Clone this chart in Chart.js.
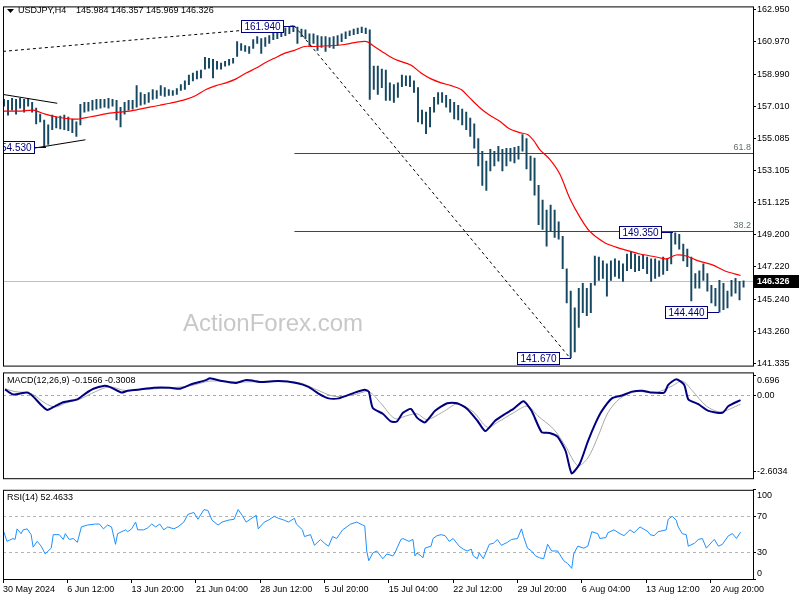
<!DOCTYPE html>
<html>
<head>
<meta charset="utf-8">
<title>USDJPY H4</title>
<script src="https://cdn.jsdelivr.net/npm/chart.js@4.4.1/dist/chart.umd.min.js"></script>
<style>
  body { margin: 0; background: #fff; }
  #wrap { position: relative; width: 800px; height: 600px; overflow: hidden; background: #fff; }
  #wrap canvas { position: absolute; left: 0; }
</style>
</head>
<body>
<div id="wrap">
  <canvas id="priceChart" width="800" height="372" style="top:0px"></canvas>
  <canvas id="macdChart" width="800" height="124" style="top:366px"></canvas>
  <canvas id="rsiChart" width="800" height="122" style="top:478px"></canvas>
</div>
<script>
// ---- chart data ----
const symbol = 'USDJPY,H4';
const lastBar = [145.984, 146.357, 145.969, 146.326]; // open, high, low, close

// one bar per 8 hours (every second H4 bar), bar i sits at H4 index 2*i+0.5
const barHigh = [
  157.45,157.39,157.51,157.45,157.51,157.45,157.51,157.27,156.91,156.55,
  156.19,155.89,156.49,156.37,156.43,156.49,156.37,156.25,156.07,157.15,
  157.27,157.27,157.39,157.45,157.45,157.45,157.51,157.45,157.39,156.97,
  157.27,157.39,157.39,158.29,157.87,157.75,157.87,158.05,157.99,158.29,
  158.17,158.05,157.99,158.11,158.35,158.58,158.94,159.06,159.18,159.24,
  160.02,159.96,159.90,159.78,159.66,159.78,159.90,159.96,160.98,160.86,
  160.74,160.68,161.10,161.28,161.16,161.22,161.34,161.63,161.58,161.75,
  161.81,161.90,161.94,161.87,161.75,161.69,161.46,161.46,161.34,161.28,
  161.28,161.22,161.28,161.34,161.46,161.58,161.63,161.75,161.81,161.87,
  161.81,161.69,159.48,159.48,159.30,159.24,158.46,158.35,158.46,158.94,
  158.88,158.88,158.58,158.17,156.79,156.67,156.97,157.57,157.87,157.87,
  157.69,157.45,157.27,157.09,156.85,156.67,156.31,155.95,155.06,154.28,
  153.68,154.40,154.28,154.58,154.40,154.46,154.46,154.52,154.58,155.30,
  155.06,153.98,153.86,152.19,151.29,150.69,150.99,150.69,149.97,149.08,
  147.10,145.73,144.71,145.91,146.21,145.91,146.21,147.88,147.82,147.58,
  147.40,147.58,147.70,147.58,147.40,148.00,148.12,148.00,147.88,147.94,
  147.82,147.70,147.70,147.58,147.82,147.70,149.35,149.30,149.20,148.60,
  148.30,147.82,146.80,146.98,147.40,146.80,146.09,145.91,146.39,146.21,
  145.73,146.39,146.51,146.33,146.357
];
const barLow = [
  157.03,156.49,156.79,156.55,156.91,156.67,157.03,156.67,155.95,156.07,
  154.53,154.70,155.60,155.71,155.65,155.60,155.54,155.42,155.18,155.89,
  156.67,156.73,156.79,156.85,156.91,156.97,156.91,157.03,156.19,155.77,
  156.55,156.79,156.85,156.97,157.09,157.15,157.27,157.45,157.51,157.69,
  157.63,157.69,157.69,157.75,157.99,158.05,158.35,158.58,158.70,158.76,
  159.30,159.36,158.76,159.30,159.30,159.48,159.54,159.66,160.08,160.44,
  160.38,160.26,160.56,160.86,160.26,160.68,160.86,161.10,161.16,161.28,
  161.34,161.46,161.58,160.86,161.28,161.16,160.74,160.86,160.44,160.62,
  160.38,160.62,160.56,160.74,160.98,161.16,161.34,161.40,161.46,161.52,
  161.46,157.45,158.05,157.75,158.17,157.39,157.39,157.27,157.57,158.23,
  158.29,158.23,157.87,156.07,155.95,155.36,155.77,156.67,157.15,157.27,
  156.97,156.67,156.25,156.19,155.89,155.60,155.18,154.46,153.38,152.19,
  151.89,153.08,153.38,153.68,153.08,153.38,153.68,153.56,153.80,154.28,
  153.20,152.49,151.59,149.80,149.50,148.48,149.38,149.02,148.90,147.10,
  145.01,141.67,142.02,143.52,144.41,144.23,144.41,146.09,146.39,146.51,
  145.43,146.39,146.63,146.51,146.33,146.98,147.10,146.92,146.98,147.10,
  146.80,146.33,146.51,146.63,146.75,146.98,147.40,148.60,148.30,147.58,
  147.22,145.13,145.91,145.91,146.39,145.73,145.01,144.83,144.44,144.60,
  144.71,145.43,145.61,145.19,145.969
];

// red moving average
const maBar = [0,9,15,21,27,34,38,43,48,53,58,63,68,73,78,83,91,96,101,106,111,116,121,126,130,135,140,145,150,155,
  165,170,175,181,184,190,195,203,208,213,218,223,228,232,237,242,247,252,257,261,264,267,272,277,282,287,292,299,305,310,
  317,325,330,335,340,346,353,359,367];
const maVal = [156.73,156.73,156.79,156.55,156.37,156.25,156.25,156.37,156.49,156.61,156.67,156.73,156.85,156.97,157.09,157.21,
  157.45,157.69,158.05,158.29,158.46,158.70,159.06,159.36,159.66,159.96,160.26,160.44,160.68,160.68,160.74,160.80,160.92,160.98,
  160.74,160.26,159.90,159.54,159.06,158.70,158.46,158.29,158.05,157.57,156.97,156.49,156.13,155.65,155.42,155.30,154.94,154.40,
  153.80,152.90,151.41,150.27,149.38,148.72,148.42,148.24,148.00,147.82,147.70,147.94,147.88,147.58,147.34,146.98,146.69];

// MACD main and signal
const macdBar = [1,5,12,15,19,22,26,30,37,41,45,50,53,59,62,67,75,83,88,94,101,103,109,116,121,129,137,146,152,157,
  162,167,175,180,182,184,189,193,196,199,203,206,210,215,221,226,231,236,240,245,250,254,259,263,268,272,276,280,283,287,
  291,295,298,303,308,313,318,323,329,331,335,339,341,346,351,358,361,367];
const macdVal = [0.208,0.033,0.099,-0.033,-0.329,-0.494,-0.362,-0.231,-0.132,0.066,0.231,0.329,0.297,0.099,0.165,0.198,0.264,0.264,
  0.231,0.395,0.527,0.593,0.494,0.428,0.527,0.461,0.494,0.428,0.297,0.066,-0.099,-0.099,0.099,0.198,0.132,-0.428,-0.626,-0.89,
  -0.89,-0.593,-0.461,-0.758,-0.923,-0.527,-0.264,-0.264,-0.461,-0.857,-1.219,-0.857,-0.626,-0.461,-0.198,-0.527,-1.252,-1.285,
  -1.417,-1.911,-2.669,-2.339,-1.582,-0.923,-0.527,-0.099,0,0.132,0.165,0.099,0.099,0.362,0.56,0.362,-0.132,-0.297,-0.527,-0.593,
  -0.362,-0.157];
const sigBar = [1,6,14,21,26,31,38,46,53,61,68,83,93,103,118,138,148,155,165,175,182,188,195,201,206,211,219,226,234,241,
  246,254,261,266,274,280,286,291,296,301,307,315,325,333,338,343,350,357,367];
const sigVal = [0.231,0.132,0.066,-0.264,-0.395,-0.264,-0.132,0.132,0.297,0.165,0.198,0.264,0.329,0.494,0.461,0.494,0.428,0.231,
  -0.033,0.033,0.132,-0.264,-0.791,-0.692,-0.626,-0.824,-0.56,-0.297,-0.56,-1.087,-0.923,-0.593,-0.362,-0.692,-1.153,-1.746,
  -2.405,-2.142,-1.417,-0.593,-0.099,0.132,0.099,0.329,0.494,0.165,-0.362,-0.56,-0.301];
const macdLast = [-0.1566, -0.3008];

// RSI(14)
const rsiBar = [0,2,5,6,7,9,10,12,14,15,17,19,21,24,25,28,30,31,33,35,37,39,42,46,48,50,52,54,56,57,
  61,62,64,66,67,70,72,74,76,78,80,82,85,87,90,92,95,97,100,102,104,107,109,112,115,117,119,121,123,126,
  127,130,132,135,137,140,142,145,146,149,150,153,155,158,160,162,164,166,169,173,176,179,180,181,182,184,186,189,191,194,
  195,198,199,202,204,205,206,208,209,210,213,214,216,218,220,222,224,227,229,231,233,234,236,237,239,242,244,246,248,251,
  253,256,258,259,261,263,265,267,269,271,273,276,279,281,283,284,286,289,291,293,296,297,300,301,304,307,309,312,314,317,
  321,322,324,326,330,331,333,335,336,338,340,341,344,346,348,350,353,354,356,358,361,363,365,367];
const rsiVal = [55.4,42.2,45.4,44.3,56.2,50.8,55.1,56.2,49.7,35.7,42.2,36.8,28.1,34.6,49.7,49.7,44.3,50.8,44.3,45.4,
  41.1,58.4,60.5,61.6,61.6,56.2,60.5,58.4,38.9,50.8,55.1,53.0,56.2,63.8,55.1,55.1,57.3,61.6,58.4,61.6,
  55.1,58.4,56.2,58.4,63.8,72.4,74.6,67.0,77.8,76.8,65.9,60.5,63.8,65.9,67.0,77.8,71.4,63.8,67.0,71.4,
  56.2,63.8,65.9,70.3,68.1,65.9,63.8,68.1,61.6,55.1,47.6,49.7,37.8,44.3,40.0,36.8,47.6,45.4,55.1,61.6,
  63.8,60.5,59.5,31.4,20.5,29.2,31.4,22.7,28.1,25.9,29.2,44.3,45.4,42.2,44.3,25.9,29.2,25.9,23.8,34.6,
  36.8,45.4,48.6,49.7,48.6,42.2,45.4,36.8,33.5,31.4,33.5,25.9,22.7,29.2,22.7,38.9,40.0,44.3,37.8,41.1,
  44.3,45.4,56.2,47.6,34.6,31.4,25.9,23.8,22.7,38.9,31.4,31.4,20.5,17.3,11.9,28.1,36.8,34.6,36.8,53.0,
  50.8,45.4,46.5,51.9,55.1,50.8,48.6,55.1,51.9,58.4,53.0,49.7,48.6,53.0,55.1,67.0,70.3,65.9,58.4,50.8,
  49.7,36.8,40.0,44.3,45.4,34.6,42.2,44.3,36.8,38.9,48.6,50.8,45.4,52.5];
const rsiLast = 52.4633;

// axis ticks
const priceTicks = [162.950,160.970,158.990,157.010,155.085,153.105,151.125,149.200,147.220,145.240,143.260,141.335];
const macdTicks = [0.696, 0, -2.6034];
const rsiTicks = [100, 70, 30, 0];
const timeTickBars = [0,32,64,96,128,160,192,224,256,288,320,352];
const timeLabels = ['30 May 2024','6 Jun 12:00','13 Jun 20:00','21 Jun 04:00','28 Jun 12:00','5 Jul 20:00',
  '15 Jul 04:00','22 Jul 12:00','29 Jul 20:00','6 Aug 04:00','13 Aug 12:00','20 Aug 20:00'];

// drawn objects (H4 bar index, price)
const fibHigh = {bar: 145, price: 161.94};
const fibLow = {bar: 282, price: 141.67};
const fibLevels = [61.8, 38.2];
const trendLine = [[0, 160.38], [145, 161.94]];
const triangleLines = [[[0, 157.75], [27, 157.21]], [[0, 154.16], [41, 154.98]]];
const pivots = [
  {bar: 145, price: 161.94}, {bar: 21, price: 154.53}, {bar: 282, price: 141.67},
  {bar: 333, price: 149.35}, {bar: 356, price: 144.44}
];

const xMin = 0, xMax = 373.2;
const FONT = '"Liberation Sans", Arial, sans-serif';
Chart.defaults.font.family = FONT;
Chart.defaults.font.size = 9;
Chart.defaults.color = '#000';

function seg(ctx, x1, y1, x2, y2) {
  ctx.beginPath();
  ctx.moveTo(x1, y1);
  ctx.lineTo(x2, y2);
  ctx.stroke();
}

// black box round every pane
const frame = {
  id: 'frame',
  afterDraw(chart) {
    const {ctx, chartArea: a} = chart;
    ctx.save();
    ctx.strokeStyle = '#000';
    ctx.lineWidth = 1;
    ctx.strokeRect(a.left + 0.5, a.top + 0.5, a.right - a.left, a.bottom - a.top);
    ctx.restore();
  }
};

function caption(text) {
  return {
    id: 'caption',
    afterDraw(chart) {
      const {ctx, chartArea: a} = chart;
      ctx.save();
      ctx.font = '9px ' + FONT;
      ctx.fillStyle = '#000';
      ctx.textBaseline = 'middle';
      ctx.fillText(text, a.left + 4, a.top + 8);
      ctx.restore();
    }
  };
}

const priceMarks = {
  id: 'priceMarks',
  beforeDatasetsDraw(chart) {
    const {ctx, chartArea: a, scales: {x, y}} = chart;
    ctx.save();
    ctx.fillStyle = '#c8c8c8';
    ctx.font = '24px ' + FONT;
    ctx.textAlign = 'center';
    ctx.textBaseline = 'middle';
    ctx.fillText('ActionForex.com', a.left + 270, 324);

    ctx.lineWidth = 1;
    ctx.strokeStyle = '#c0c0c0';
    const py = Math.round(y.getPixelForValue(lastBar[3])) + 0.5;
    seg(ctx, a.left, py, a.right, py);

    ctx.font = '9px ' + FONT;
    ctx.textAlign = 'right';
    ctx.textBaseline = 'bottom';
    fibLevels.forEach(lv => {
      const p = fibLow.price + (fibHigh.price - fibLow.price) * lv / 100;
      const yy = Math.round(y.getPixelForValue(p)) + 0.5;
      ctx.strokeStyle = '#2f4f4f';
      seg(ctx, x.getPixelForValue(fibHigh.bar), yy, a.right, yy);
      ctx.fillStyle = '#5f7070';
      ctx.fillText(lv.toFixed(1), a.right - 2, yy - 1);
    });
    ctx.restore();
  },
  afterDatasetsDraw(chart) {
    const {ctx, chartArea: a, scales: {x, y}} = chart;
    ctx.save();
    ctx.beginPath();
    ctx.rect(a.left, a.top, a.right - a.left, a.bottom - a.top);
    ctx.clip();
    ctx.lineWidth = 1;
    ctx.strokeStyle = '#000';
    ctx.setLineDash([3, 3]);
    seg(ctx, x.getPixelForValue(trendLine[0][0]), y.getPixelForValue(trendLine[0][1]),
             x.getPixelForValue(trendLine[1][0]), y.getPixelForValue(trendLine[1][1]));
    seg(ctx, x.getPixelForValue(fibHigh.bar), y.getPixelForValue(fibHigh.price),
             x.getPixelForValue(fibLow.bar), y.getPixelForValue(fibLow.price));
    ctx.setLineDash([]);
    triangleLines.forEach(l => {
      seg(ctx, x.getPixelForValue(l[0][0]), y.getPixelForValue(l[0][1]),
               x.getPixelForValue(l[1][0]), y.getPixelForValue(l[1][1]));
    });

    ctx.font = '10px ' + FONT;
    ctx.textAlign = 'center';
    ctx.textBaseline = 'middle';
    pivots.forEach(pv => {
      const txt = pv.price.toFixed(3);
      const px = Math.round(x.getPixelForValue(pv.bar));
      const py = Math.round(y.getPixelForValue(pv.price));
      const w = Math.round(ctx.measureText(txt).width) + 7;
      const right = px - 10;
      ctx.strokeStyle = '#000080';
      seg(ctx, right, py + 0.5, px + 1, py + 0.5);
      ctx.fillStyle = '#fff';
      ctx.fillRect(right - w, py - 6, w, 13);
      ctx.strokeRect(right - w + 0.5, py - 5.5, w - 1, 12);
      ctx.fillStyle = '#000080';
      ctx.fillText(txt, right - w / 2, py + 1);
    });
    ctx.restore();
  },
  afterDraw(chart) {
    const {ctx, chartArea: a, scales: {y}} = chart;
    ctx.save();
    // symbol header
    ctx.fillStyle = '#000';
    ctx.beginPath();
    ctx.moveTo(a.left + 4, 9);
    ctx.lineTo(a.left + 11, 9);
    ctx.lineTo(a.left + 7.5, 13);
    ctx.closePath();
    ctx.fill();
    ctx.font = '9px ' + FONT;
    ctx.textBaseline = 'middle';
    ctx.fillText(symbol, a.left + 15, 11);
    ctx.fillText(lastBar.map(v => v.toFixed(3)).join(' '), a.left + 73, 11);
    // last price tag
    const py = Math.round(y.getPixelForValue(lastBar[3]));
    ctx.fillRect(a.right + 1, py - 6, 45, 13);
    ctx.fillStyle = '#fff';
    ctx.font = 'bold 9px ' + FONT;
    ctx.fillText(lastBar[3].toFixed(3), a.right + 4, py + 1);
    ctx.restore();
  }
};

function hiddenX() {
  return {type: 'linear', min: xMin, max: xMax, offset: false, display: false, grid: {offset: false}};
}

const baseOptions = {
  responsive: false,
  animation: false,
  events: [],
  plugins: {legend: {display: false}, tooltip: {enabled: false}}
};

// price pane
new Chart(document.getElementById('priceChart'), {
  type: 'bar',
  data: {
    datasets: [
      {
        type: 'line',
        data: maBar.map((b, i) => ({x: b, y: maVal[i]})),
        borderColor: '#ff0000',
        borderWidth: 1.2,
        pointRadius: 0,
        tension: 0.3
      },
      {
        type: 'bar',
        data: barHigh.map((h, i) => ({x: 2 * i + 0.5, y: [barLow[i], h]})),
        backgroundColor: '#174862',
        barThickness: 1.3,
        borderWidth: 0
      }
    ]
  },
  options: {
    ...baseOptions,
    layout: {padding: {left: 3, top: 2, bottom: 3, right: 0}},
    scales: {
      x: hiddenX(),
      y: {
        position: 'right',
        min: 141.183,
        max: 163.129,
        beginAtZero: false,
        afterFit: s => { s.width = 47; },
        afterBuildTicks: s => { s.ticks = priceTicks.map(v => ({value: v})); },
        ticks: {callback: v => v.toFixed(3), padding: 1, color: '#000'},
        grid: {drawOnChartArea: false, drawTicks: true, tickLength: 3, tickColor: '#000'},
        border: {display: false}
      }
    }
  },
  plugins: [priceMarks, frame]
});

// MACD pane
new Chart(document.getElementById('macdChart'), {
  type: 'line',
  data: {
    datasets: [
      {
        data: macdBar.map((b, i) => ({x: b, y: macdVal[i]})),
        borderColor: '#000080',
        borderWidth: 2,
        pointRadius: 0,
        tension: 0.2
      },
      {
        data: sigBar.map((b, i) => ({x: b, y: sigVal[i]})),
        borderColor: '#a8a8a8',
        borderWidth: 1,
        pointRadius: 0,
        tension: 0.3
      }
    ]
  },
  options: {
    ...baseOptions,
    layout: {padding: {left: 3, top: 6, bottom: 6, right: 0}},
    scales: {
      x: hiddenX(),
      y: {
        position: 'right',
        min: -2.834,
        max: 0.791,
        afterFit: s => { s.width = 47; },
        afterBuildTicks: s => { s.ticks = macdTicks.map(v => ({value: v})); },
        ticks: {
          padding: 1,
          callback: v => v === macdTicks[0] ? ['', v.toFixed(3)] : (v === 0 ? '0.00' : v.toFixed(4))
        },
        grid: {
          drawOnChartArea: true,
          color: c => (c.tick && c.tick.value === 0) ? '#a8a8a8' : 'rgba(0,0,0,0)',
          tickColor: '#000',
          tickLength: 3
        },
        border: {display: false, dash: [3, 3]}
      }
    }
  },
  plugins: [frame, caption('MACD(12,26,9) ' + macdLast.join(' '))]
});

// RSI pane with the time axis
new Chart(document.getElementById('rsiChart'), {
  type: 'line',
  data: {
    datasets: [{
      data: rsiBar.map((b, i) => ({x: b, y: rsiVal[i]})),
      borderColor: '#1e90ff',
      borderWidth: 1,
      pointRadius: 0,
      tension: 0
    }]
  },
  options: {
    ...baseOptions,
    layout: {padding: {left: 3, top: 8, bottom: 0, right: 0}},
    scales: {
      x: {
        type: 'linear',
        min: xMin,
        max: xMax,
        offset: false,
        afterFit: s => { s.height = 21; },
        afterBuildTicks: s => { s.ticks = timeTickBars.map(v => ({value: v})); },
        ticks: {
          callback: (v, i) => timeLabels[i],
          align: 'start',
          autoSkip: false,
          maxRotation: 0,
          padding: 1
        },
        grid: {drawOnChartArea: false, drawTicks: true, tickLength: 4, tickColor: '#000', offset: false},
        border: {display: false}
      },
      y: {
        position: 'right',
        min: 0,
        max: 100,
        afterFit: s => { s.width = 47; },
        afterBuildTicks: s => { s.ticks = rsiTicks.map(v => ({value: v})); },
        ticks: {
          padding: 1,
          callback: v => v === 100 ? ['', '100'] : (v === 0 ? ['0', ''] : String(v))
        },
        grid: {
          drawOnChartArea: true,
          color: c => (c.tick && (c.tick.value === 70 || c.tick.value === 30)) ? '#b4b4b4' : 'rgba(0,0,0,0)',
          tickColor: '#000',
          tickLength: 3
        },
        border: {display: false, dash: [3, 3]}
      }
    }
  },
  plugins: [frame, caption('RSI(14) ' + rsiLast)]
});
</script>
</body>
</html>
